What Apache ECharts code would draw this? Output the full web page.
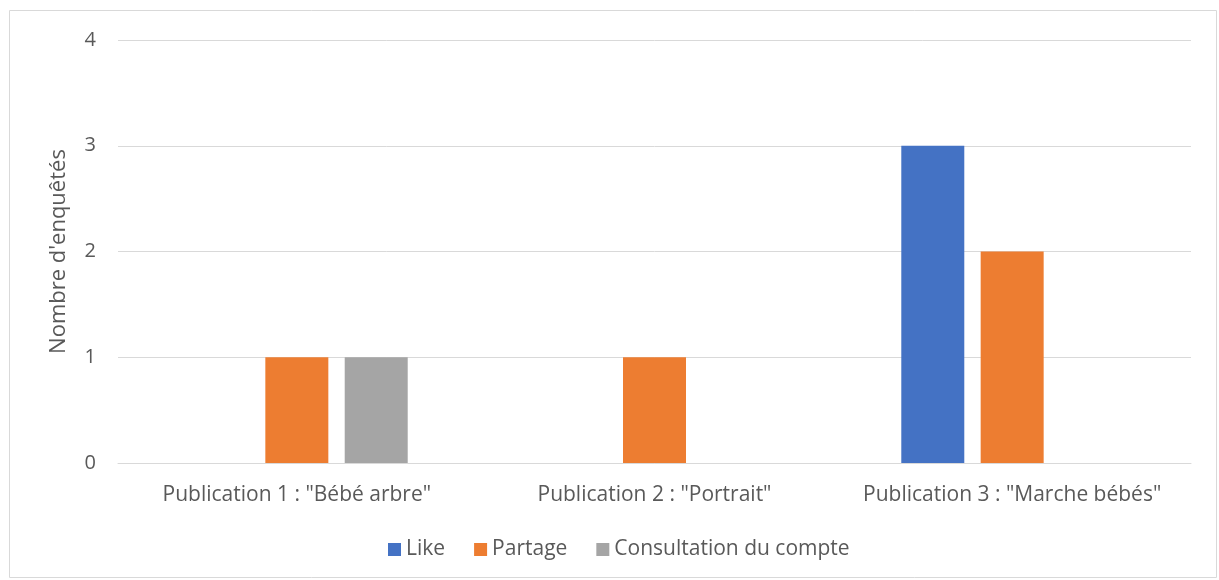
<!DOCTYPE html>
<html>
<head>
<meta charset="utf-8">
<script src="https://cdn.jsdelivr.net/npm/echarts@6/dist/echarts.min.js"></script>
<style>
  html, body { margin: 0; padding: 0; background: #fff; }
  #chart { width: 1219px; height: 580px; }
</style>
</head>
<body>
<div id="chart"></div>
<script>
// data
const categories = ['Publication 1 : "Bébé arbre"', 'Publication 2 : "Portrait"', 'Publication 3 : "Marche bébés"']
const seriesNames = ['Like', 'Partage', 'Consultation du compte']
const likeValues = [0, 0, 3]
const partageValues = [1, 1, 2]
const consultationValues = [1, 0, 0]
const yTicks = [0, 1, 2, 3, 4]

const font = 'Open Sans'
const textColor = '#595959'

const chart = echarts.init(document.getElementById('chart'))

const option = {
    animation: false,
    graphic: [{
        type: 'rect',
        shape: { x: 9.5, y: 10.5, width: 1207, height: 567 },
        style: { fill: 'none', stroke: '#d9d9d9', lineWidth: 1 },
        silent: true
    }],
    legend: {
        data: seriesNames,
        bottom: 15,
        left: 383,
        itemWidth: 13,
        itemHeight: 13,
        itemGap: 29,
        icon: 'rect',
        textStyle: { color: textColor, fontSize: 21, fontFamily: font }
    },
    grid: {
        left: 118,
        right: 28,
        top: 40,
        bottom: 117
    },
    xAxis: {
        type: 'category',
        data: categories,
        axisLine: { lineStyle: { color: '#d9d9d9', width: 1 } },
        axisTick: { show: false },
        axisLabel: { color: textColor, fontSize: 21, margin: 22, interval: 0, fontFamily: font }
    },
    yAxis: {
        type: 'value',
        min: yTicks[0],
        max: yTicks[yTicks.length - 1],
        interval: 1,
        name: "Nombre d'enquêtés",
        nameLocation: 'middle',
        nameGap: 48,
        nameTextStyle: { color: textColor, fontSize: 22, fontFamily: font },
        axisLine: { show: false },
        axisTick: { show: false },
        axisLabel: { color: textColor, fontSize: 20, margin: 22, fontFamily: font },
        splitLine: { lineStyle: { color: '#d9d9d9', width: 1 } }
    },
    series: [
        {
            name: seriesNames[0],
            type: 'bar',
            data: likeValues,
            itemStyle: { color: '#4472c4' },
            barGap: '26%',
            barCategoryGap: '38%'
        },
        {
            name: seriesNames[1],
            type: 'bar',
            data: partageValues,
            itemStyle: { color: '#ed7d31' }
        },
        {
            name: seriesNames[2],
            type: 'bar',
            data: consultationValues,
            itemStyle: { color: '#a5a5a5' }
        }
    ]
}

chart.setOption(option)
</script>
</body>
</html>
